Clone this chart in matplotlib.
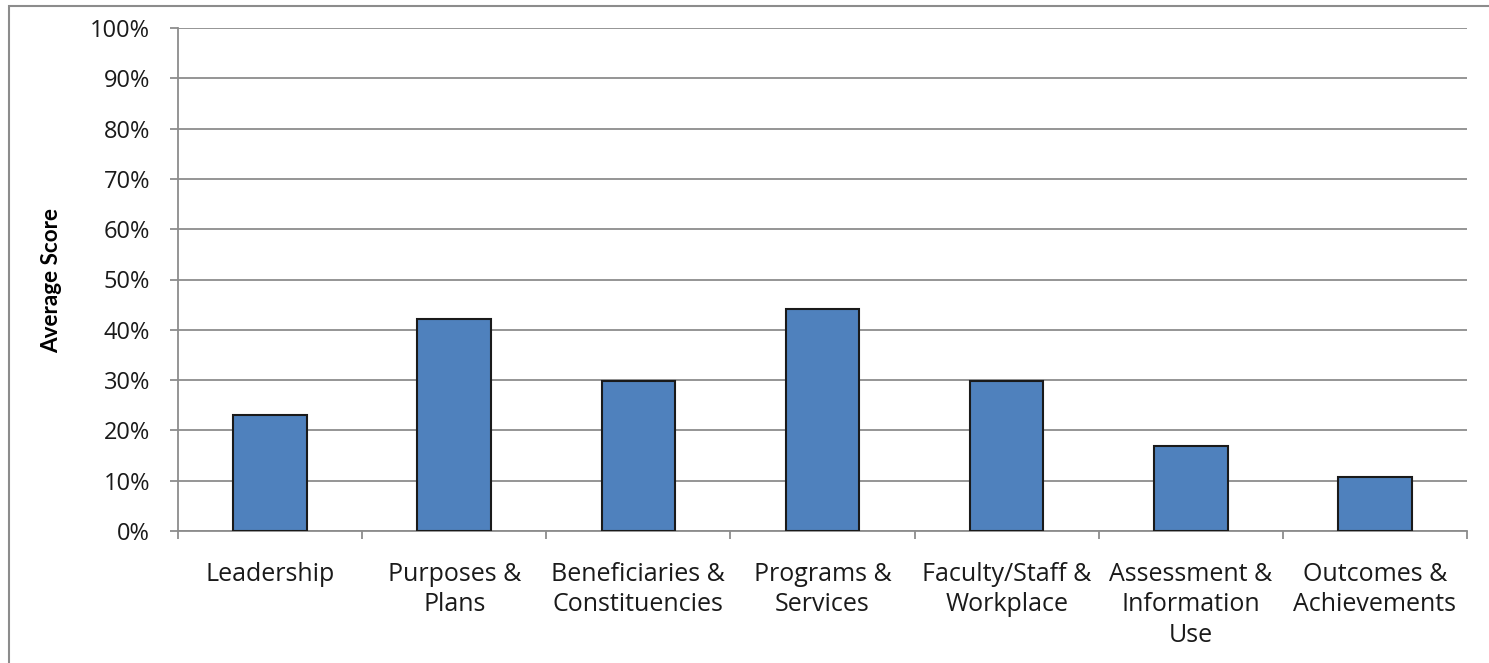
import matplotlib.pyplot as plt
import matplotlib.patches as mpatches
from matplotlib.ticker import PercentFormatter
import numpy as np

categorias = ["Leadership", "Purposes &\nPlans", "Beneficiaries &\nConstituencies",
              "Programs &\nServices", "Faculty/Staff &\nWorkplace",
              "Assessment &\nInformation\nUse", "Outcomes &\nAchievements"]
puntajes = [23.1, 42.1, 29.8, 44.1, 29.8, 16.9, 10.7]
ticks_y = [0, 10, 20, 30, 40, 50, 60, 70, 80, 90, 100]

plt.rcParams['font.family'] = ['Open Sans', 'DejaVu Sans']

fig = plt.figure(figsize=(14.89, 6.63), dpi=100)
ax = fig.add_axes([178/1489, 1 - 531/663, (1467-178)/1489, (531-28)/663])

x = np.arange(len(categorias))
ax.bar(x, puntajes, width=0.4, color="#4F81BD", edgecolor="#1a1a1a", linewidth=1.5, zorder=3)

ax.set_xlim(-0.5, len(categorias) - 0.5)
ax.set_ylim(0, 100)
ax.set_yticks(ticks_y)
ax.yaxis.set_major_formatter(PercentFormatter(decimals=0))
ax.yaxis.grid(True, color="#8c8c8c", linewidth=1.3, zorder=0)

# marcas entre categorias en el eje x
ax.set_xticks(np.arange(len(categorias) + 1) - 0.5)
ax.set_xticklabels([])
ax.set_xticks(x, minor=True)
ax.set_xticklabels(categorias, minor=True, fontsize=18, color="#1a1a1a", linespacing=1.3)
ax.tick_params(axis="x", which="minor", length=0, pad=22)
ax.tick_params(axis="x", which="major", length=6, color="#8c8c8c", width=1.3)
ax.tick_params(axis="y", length=6, color="#8c8c8c", width=1.3, labelsize=17, labelcolor="#1a1a1a", pad=14)

for s in ["top", "right"]:
    ax.spines[s].set_visible(False)
for s in ["left", "bottom"]:
    ax.spines[s].set_color("#8c8c8c")
    ax.spines[s].set_linewidth(1.3)

fig.text(52/1489, 1 - 280/663, "Average Score", rotation=90, ha="center", va="center",
         fontsize=16.2, fontweight="bold", family=["Lato", "DejaVu Sans"])

# borde exterior del grafico
borde = mpatches.Rectangle((9/1489, -0.05), 1.2, 1 - 6/663 + 0.05, transform=fig.transFigure,
                           fill=False, edgecolor="#8c8c8c", linewidth=1.5)
fig.patches.append(borde)

fig.savefig("out.png", dpi=100)
